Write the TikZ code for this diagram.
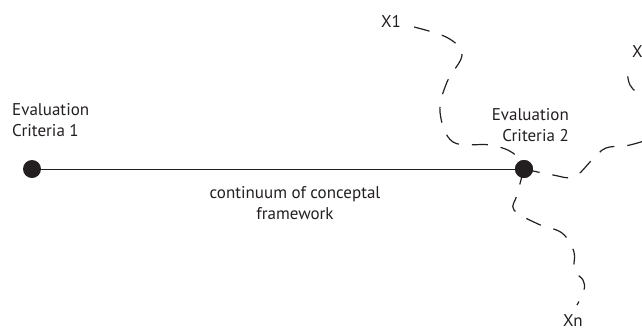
\documentclass[tikz,border=0pt]{standalone}
\usepackage{fontspec}
\setmainfont{PT Sans}
\usepackage{xcolor}
\usepackage{tikz}
\definecolor{ink}{HTML}{231F20}

\begin{document}
\begin{tikzpicture}[x=1pt,y=-1pt,
    crit/.style={circle, fill=ink, inner sep=0pt, minimum size=18pt},
    lbl/.style={inner sep=0pt, text=ink, font=\fontsize{17}{21}\selectfont},
    path/.style={draw=ink, line width=1.2pt, dash pattern=on 16pt off 13pt}]
  \useasboundingbox (0,0) rectangle (642,330);
  \clip (0,0) rectangle (642,330);
  % the two criteria and the line between them
  \node[crit] (c1) at (32,169) {};
  \node[crit] (c2) at (524,169) {};
  \draw[ink, line width=0.9pt] (c1) -- (c2);
  \node[lbl, align=left, anchor=base west] (t1) at (12,136) {Evaluation\\Criteria 1};
  \node[lbl, align=right, anchor=base east] (t2) at (569,141) {Evaluation\\Criteria 2};
  \node[lbl, align=center, anchor=base] (cont) at (295,219) {continuum of conceptal\\framework};
  % the outcomes
  \node[lbl, anchor=base west] (x1) at (381,27) {X1};
  \node[lbl, anchor=base west] (x2) at (632,57) {X2};
  \node[lbl, anchor=base west] (xn) at (563,326) {Xn};
  \coordinate (x1s) at (414,27);
  \coordinate (x2s) at (627,66);
  \coordinate (xns) at (577,305);
  \draw[path] plot[smooth, tension=0.6] coordinates {(x1s) (448,38) (462,55) (447,82) (440,112) (453,142) (490,145) (513,153) (c2)};
  \draw[path] plot[smooth, tension=0.6] coordinates {(c2) (553,175) (574,177) (592,160) (606,148) (630,145) (655,135) (660,115) (645,100) (630,85) (x2s)};
  \draw[path] plot[smooth, tension=0.6] coordinates {(c2) (517,195) (514,210) (538,224) (562,233) (574,252) (574,270) (583,280) (584,290) (xns)};
  \node[crit] at (c2) {};
\end{tikzpicture}
\end{document}
